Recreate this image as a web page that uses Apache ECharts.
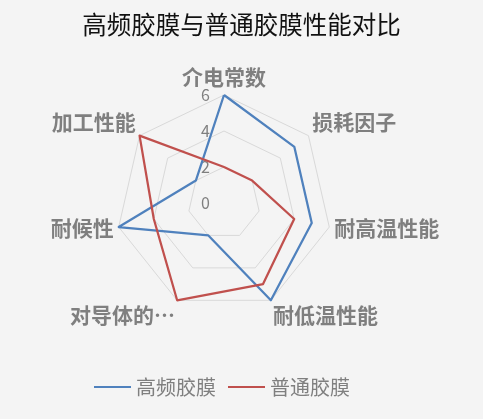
<!DOCTYPE html>
<html>
<head>
<meta charset="utf-8">
<script src="https://cdn.jsdelivr.net/npm/echarts@6/dist/echarts.min.js"></script>
<style>
html,body{margin:0;padding:0;background:#f4f4f4;}
#chart{width:483px;height:419px;}
</style>
</head>
<body>
<div id="chart"></div>
<script>
// Data (clockwise from top, as in the reference)
const titleText = '高频胶膜与普通胶膜性能对比';
const indicatorNames = ['介电常数', '损耗因子', '耐高温性能', '耐低温性能', '对导体的…', '耐候性', '加工性能'];
const seriesNames = ['高频胶膜', '普通胶膜'];
const highFreqValues = [6, 5, 5, 6, 2, 6, 2];
const normalValues = [2, 2, 4, 5, 6, 4, 6];
const axisMax = 6;
const axisMin = 0;
const splitCount = 3;

// Styling per indicator (clockwise order)
const nameAlign = [
  null,
  { align: 'left', verticalAlign: 'bottom' },
  null,
  { align: 'left', verticalAlign: 'top' },
  { align: 'right', verticalAlign: 'top' },
  null,
  { align: 'right', verticalAlign: 'bottom' }
];

// ECharts places radar indicators counter-clockwise; reorder to get clockwise layout
const order = [0];
for (let i = indicatorNames.length - 1; i >= 1; i--) order.push(i);

const indicator = order.map(function (i) {
  const o = { name: indicatorNames[i], max: axisMax, min: axisMin };
  if (nameAlign[i]) o.nameTextStyle = Object.assign({}, nameAlign[i]);
  o.axisLabel = { show: i === 0 };
  return o;
});

const chart = echarts.init(document.getElementById('chart'));
const fontFamily = '"Noto Sans CJK SC", "Noto Sans", sans-serif';
chart.setOption({
  backgroundColor: '#f4f4f4',
  animation: false,
  title: {
    text: titleText,
    left: 'center',
    top: 7,
    textStyle: { fontFamily: fontFamily, fontSize: 24.5, fontWeight: 'normal', color: '#111' }
  },
  legend: {
    data: seriesNames,
    left: 89,
    top: 372,
    icon: 'rect',
    itemWidth: 37,
    itemHeight: 2,
    itemGap: 12,
    textStyle: { fontFamily: fontFamily, fontSize: 20, color: '#7f7f7f' }
  },
  color: ['#4F81BD', '#C0504D'],
  radar: {
    center: [224, 203],
    radius: 108,
    startAngle: 90,
    splitNumber: splitCount,
    indicator: indicator,
    nameGap: 5,
    axisName: { fontFamily: fontFamily, fontSize: 21, fontWeight: 'bold', color: '#7f7f7f' },
    axisLine: { show: false },
    axisTick: { show: false },
    axisLabel: { show: false, fontFamily: fontFamily, fontSize: 16, color: '#7f7f7f', margin: 14 },
    splitLine: { lineStyle: { color: '#d9d9d9', width: 1 } },
    splitArea: { show: false }
  },
  series: [{
    type: 'radar',
    symbol: 'none',
    lineStyle: { width: 2.25 },
    data: [
      { name: seriesNames[0], value: order.map(function (i) { return highFreqValues[i]; }), lineStyle: { color: '#4F81BD', width: 2.25 }, itemStyle: { color: '#4F81BD' } },
      { name: seriesNames[1], value: order.map(function (i) { return normalValues[i]; }), lineStyle: { color: '#C0504D', width: 2.25 }, itemStyle: { color: '#C0504D' } }
    ]
  }]
});
</script>
</body>
</html>
